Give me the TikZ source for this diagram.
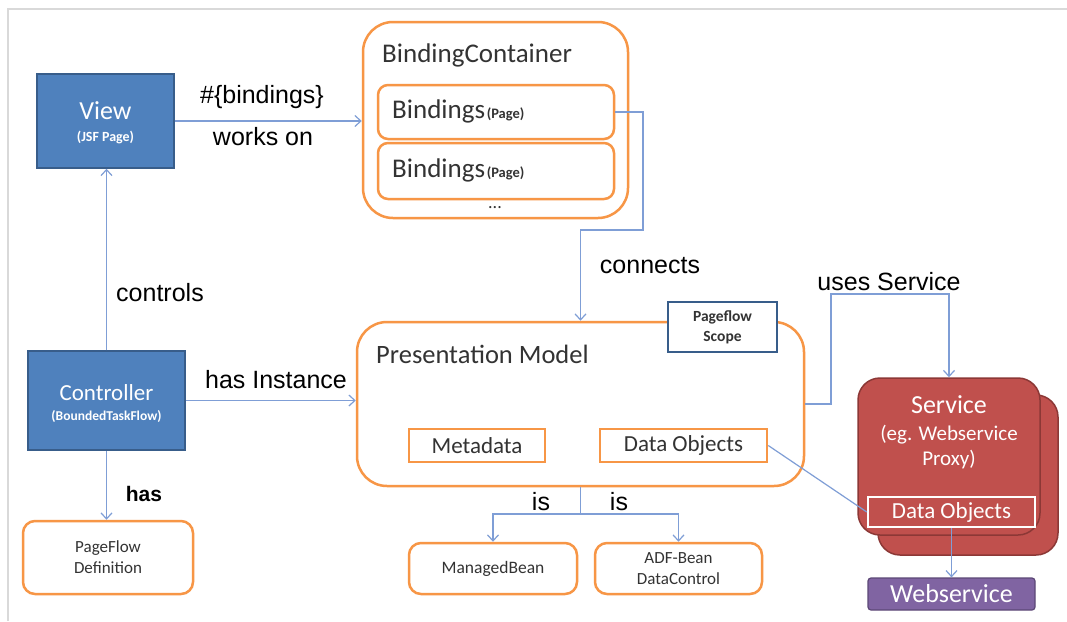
\documentclass[tikz,border=0pt]{standalone}
\usepackage{fontspec}
\setmainfont{Carlito}
\newfontfamily\arialf{Liberation Sans}
\usetikzlibrary{arrows.meta}
\definecolor{orng}{HTML}{F79646}
\definecolor{blu}{HTML}{4F81BD}
\definecolor{bluD}{HTML}{385D8A}
\definecolor{lnk}{HTML}{7F9ED6}
\definecolor{redF}{HTML}{C0504D}
\definecolor{redD}{HTML}{8C3836}
\definecolor{purp}{HTML}{8064A2}
\definecolor{purpD}{HTML}{5C4776}
\definecolor{txt}{HTML}{333333}
\definecolor{frm}{HTML}{D9D9D9}
\newcommand\fsz[1]{\fontsize{#1}{#1}\selectfont}
\newcommand\fszl[2]{\fontsize{#1}{#2}\selectfont}
\tikzset{
  obox/.style={draw=orng, line width=2.5pt, fill=white, rounded corners=#1, inner sep=0pt, text=txt},
  obox/.default=12pt,
  sbox/.style={draw=orng, line width=2.5pt, fill=white, inner sep=0pt, text=txt},
  bbox/.style={draw=bluD, fill=blu, line width=1.5pt, inner sep=0pt},
  rbox/.style={draw=redD, fill=redF, line width=1.5pt, rounded corners=22pt, inner sep=0pt},
  wtxt/.style={inner sep=0pt, text=white},
  link/.style={draw=lnk, line width=1.2pt, -{Straight Barb[length=6pt,width=11pt]}},
  plink/.style={draw=lnk, line width=1.2pt},
  lbl/.style={font=\arialf\fsz{25}, text=black, inner sep=0pt},
  ttl/.style={anchor=west, inner sep=0pt, text=txt}
}
\begin{document}
\begin{tikzpicture}[x=1pt,y=-1pt]
\useasboundingbox (0,0) rectangle (1067,621);
\fill[white] (0,0) rectangle (1067,621);
\draw[frm, line width=1.5pt] (8,621) -- (8,9) -- (1067,9);

% left column
\node[bbox, minimum width=137pt, minimum height=94pt] (view) at (105.5,121) {};
\node[wtxt, font=\fsz{26}] (viewt) at (105.5,111) {View};
\node[wtxt, font=\fsz{14}\bfseries] (views) at (105.5,137) {(JSF Page)};
\node[bbox, minimum width=157pt, minimum height=99pt] (ctrl) at (106.5,400.5) {};
\node[wtxt, font=\fsz{23}] (ctrlt) at (106.5,393) {Controller};
\node[wtxt, font=\fsz{13.5}\bfseries] (ctrls) at (106.5,417) {(BoundedTaskFlow)};
\node[obox=12pt, minimum width=170pt, minimum height=73pt, align=center, font=\fszl{17}{21}] (pfd) at (108,557.5)
  {PageFlow\\Definition};

% binding container
\node[obox=30pt, minimum width=265pt, minimum height=196pt] (bc) at (495.5,120) {};
\node[ttl, font=\fsz{27}] (bct) at (382,55) {BindingContainer};
\node[obox=10pt, minimum width=236pt, minimum height=54pt] (b1) at (496,112) {};
\node[ttl] (b1t) at (392,111) {{\fsz{27}Bindings}\,{\fsz{14.5}\bfseries(Page)}};
\node[obox=10pt, minimum width=236pt, minimum height=56pt] (b2) at (496,171) {};
\node[ttl] (b2t) at (392,170) {{\fsz{27}Bindings}\,{\fsz{14.5}\bfseries(Page)}};
\node[inner sep=0pt, text=txt, font=\fsz{18}] (dots) at (495,208) {...};

% presentation model
\node[obox=30pt, minimum width=447pt, minimum height=164pt] (pm) at (580.5,404) {};
\node[ttl, font=\fsz{26.5}] (pmt) at (376,354) {Presentation Model};
\node[draw=bluD, line width=2pt, fill=white, minimum width=109pt, minimum height=50pt,
  inner sep=0pt, align=center, font=\fszl{15.5}{20}\bfseries, text=txt] (pfs) at (722.5,327) {Pageflow\\Scope};
\node[sbox, minimum width=136pt, minimum height=33pt, font=\fsz{23}] (meta) at (477,445.5) {Metadata};
\node[sbox, minimum width=167pt, minimum height=33pt, font=\fsz{23}] (do1) at (683.5,445.5) {Data Objects};

\node[obox=12pt, minimum width=168pt, minimum height=51pt, font=\fsz{17.5}] (mb) at (493,568.5) {ManagedBean};
\node[obox=12pt, minimum width=167pt, minimum height=51pt, align=center, font=\fszl{17}{21}] (adf) at (678.5,568.5) {ADF-Bean\\DataControl};

% service
\node[rbox, minimum width=180pt, minimum height=160pt] (svcb) at (968,475) {};
\node[rbox, minimum width=182pt, minimum height=157pt] (svc) at (949,456.5) {};
\node[wtxt, font=\fsz{26}] (svct) at (949,405) {Service};
\node[wtxt, font=\fsz{21}] (svcs1) at (949,435) {(eg. Webservice};
\node[wtxt, font=\fsz{21}] (svcs2) at (949,460) {Proxy)};
\node[draw=white, fill=redF, line width=2.5pt, minimum width=167pt, minimum height=30pt,
  inner sep=0pt, text=white, font=\fsz{23}] (do2) at (951.5,512) {Data Objects};
\node[draw=purpD, fill=purp, line width=1.2pt, rounded corners=3pt, minimum width=167pt, minimum height=32pt,
  inner sep=0pt, text=white, font=\fsz{26}] (ws) at (951.5,594) {Webservice};

% connectors
\draw[link] (view.east) -- (view.east -| bc.west);
\node[lbl] (l1) at (262,97) {\#\{bindings\}};
\node[lbl] (l2) at (263,137) {works on};

\coordinate (c1) at (643,230);
\draw[link] (b1.east) -| (c1) -| (pm.north);
\node[lbl] (l3) at (650,266) {connects};

\draw[link] (ctrl.north) -- (ctrl.north |- view.south);
\node[lbl] (l4) at (160,293) {controls};

\draw[link] (ctrl.east) -- (ctrl.east -| pm.west);
\node[lbl] (l5) at (276,380) {has Instance};

\draw[link] (ctrl.south) -- (ctrl.south |- pfd.north);
\node[lbl, font=\arialf\bfseries\fsz{21}] (l6) at (144,494) {has};

\coordinate (c2) at (831,294);
\draw[link] (pm.east) -| (c2) -| (svc.north);
\node[lbl] (l7) at (889,282) {uses Service};

\draw[plink] (do1.east) -- (do2.west);
\draw[link] (do2.south) -- (ws.north);

\coordinate (c3) at (580.5,514);
\draw[plink] (pm.south) -- (c3);
\draw[link] (c3) -| (mb.north);
\draw[link] (c3) -| (adf.north);
\node[lbl] (l8) at (541,502) {is};
\node[lbl] (l9) at (619,502) {is};
\end{tikzpicture}
\end{document}
